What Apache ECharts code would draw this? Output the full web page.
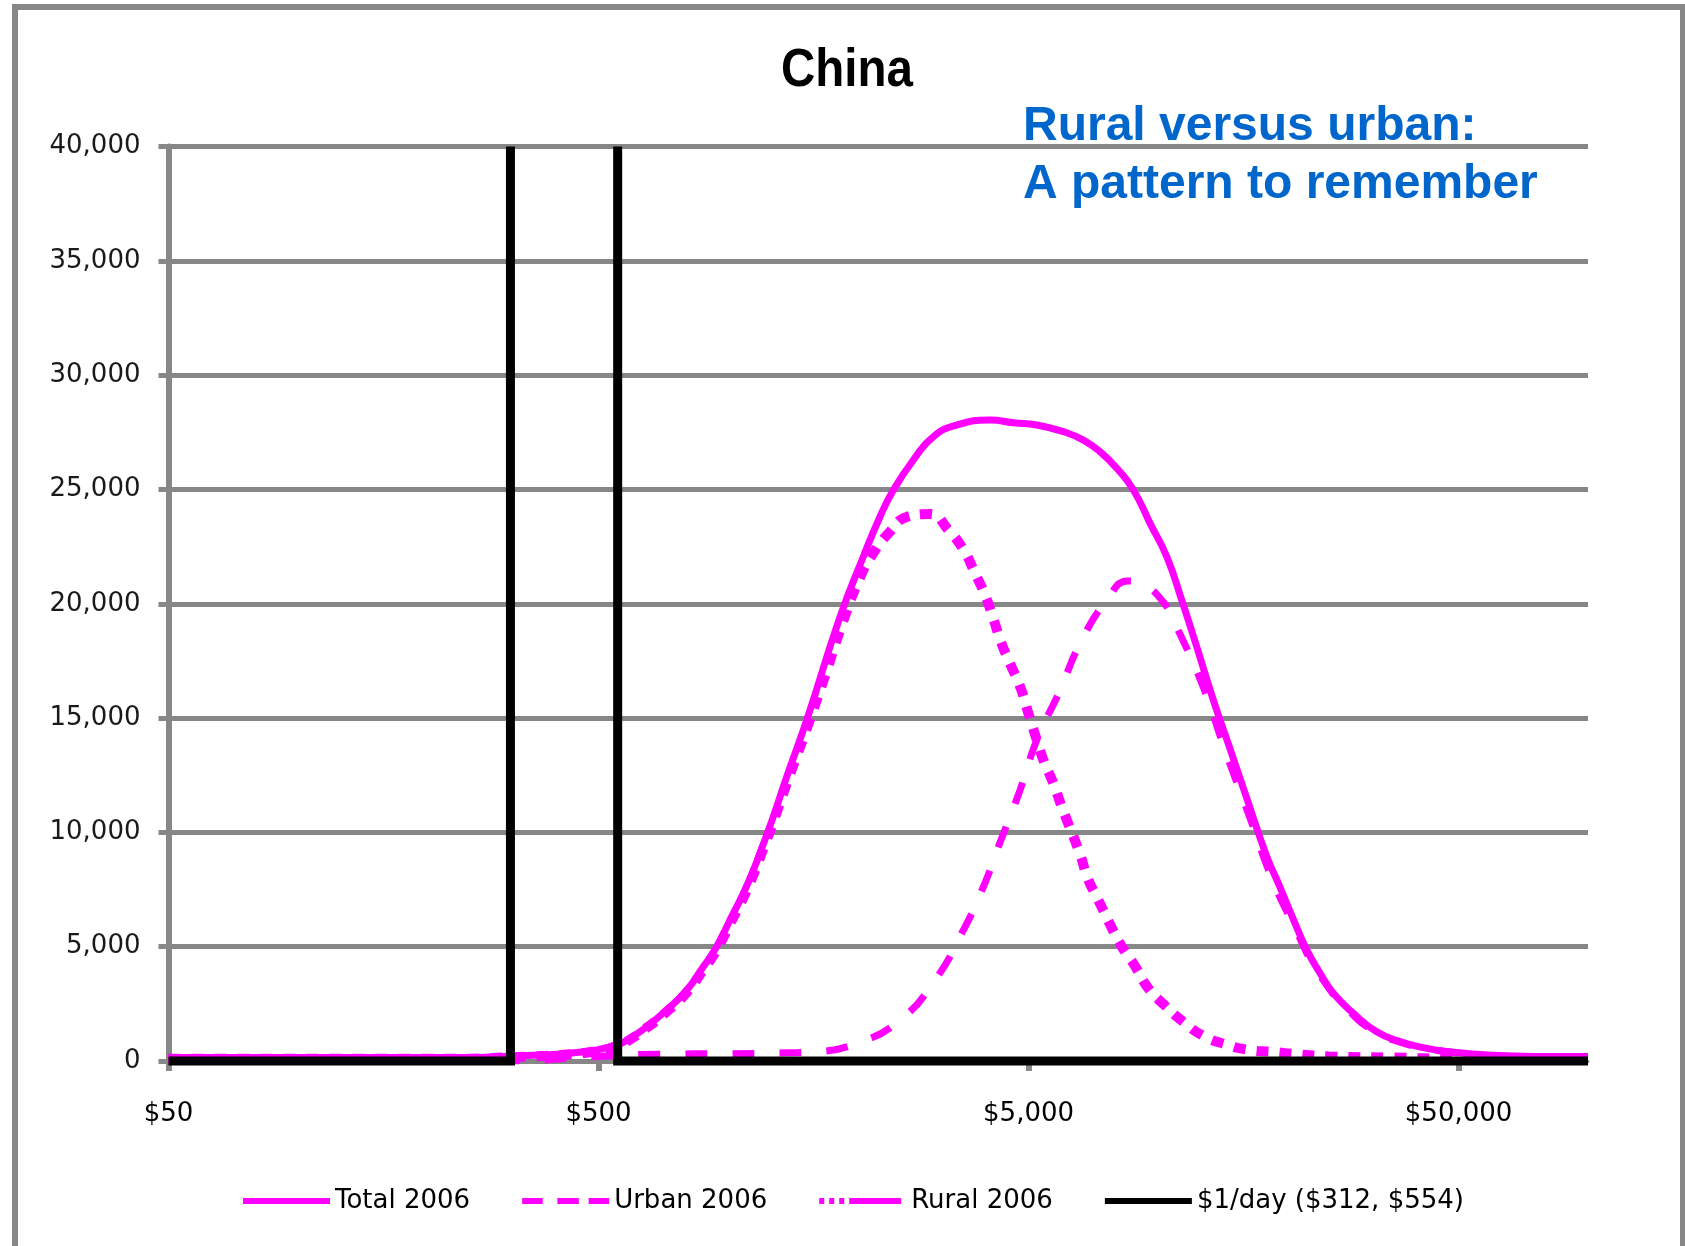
<!DOCTYPE html>
<html>
<head>
<meta charset="utf-8">
<script src="https://cdn.jsdelivr.net/npm/echarts@6/dist/echarts.min.js"></script>
<style>
html, body { margin: 0; padding: 0; background: #ffffff; }
#chart { width: 1685px; height: 1246px; }
</style>
</head>
<body>
<div id="chart"></div>
<script>
// ---------- data ----------
const chartTitle = 'China';
const noteLines = ['Rural versus urban:', 'A pattern to remember'];
const xTickValues = [50, 500, 5000, 50000];
const xMin = 50, xMax = 100000;
const yMin = 0, yMax = 40000, yStep = 5000;

const totalIncome = [50, 250, 300, 350, 400, 450, 500, 550, 582, 647, 720, 802, 877, 941, 1011, 1086, 1146, 1209, 1275, 1370, 1525, 1822, 2064, 2257, 2425, 2698, 3003, 3404, 4070, 4610, 5226, 6025, 6707, 7334, 8020, 8767, 9585, 10480, 11356, 12305, 13451, 14710, 16085, 17905, 19225, 20645, 22180, 23820, 25575, 28460, 32255, 36550, 42170, 47760, 60000, 75000, 100000];
const totalCount  = [150, 150, 200, 250, 300, 380, 500, 700, 900, 1500, 2230, 3100, 4130, 5000, 6170, 7340, 8350, 9500, 10690, 12440, 14920, 19430, 22060, 23810, 24980, 26290, 27310, 27820, 28040, 27920, 27820, 27530, 27160, 26650, 25930, 24980, 23520, 22060, 20160, 18120, 15790, 13650, 11500, 8950, 7600, 6200, 4860, 3840, 2960, 2090, 1280, 850, 550, 400, 250, 200, 200];

const urbanIncome = [50, 300, 500, 700, 1000, 1300, 1570, 1992, 2512, 3030, 3497, 3926, 4254, 4777, 5226, 5897, 6590, 7600, 8520, 9085, 10275, 11135, 12685, 14350, 16315, 18395, 20645, 23820, 28460, 32255, 36550, 42170, 47760, 60000, 75000, 100000];
const urbanCount  = [0, 0, 200, 300, 320, 350, 400, 770, 1790, 3540, 5590, 7620, 9370, 11850, 14040, 16150, 18270, 20160, 21000, 20900, 20090, 18850, 16450, 13550, 10700, 8000, 5970, 3740, 2000, 1250, 820, 540, 390, 200, 150, 150];

const ruralIncome = [50, 250, 300, 350, 400, 450, 500, 550, 582, 647, 720, 802, 877, 941, 1011, 1086, 1146, 1209, 1275, 1370, 1525, 1681, 1854, 2028, 2178, 2382, 2604, 2951, 3255, 3540, 3741, 3962, 4140, 4320, 4545, 4796, 4996, 5226, 5413, 5710, 5973, 6590, 6865, 7265, 7706, 8205, 8858, 9485, 10347, 11455, 12685, 14350, 16315, 18395, 21000, 25000, 35000, 50000, 100000];
const ruralCount  = [100, 100, 150, 200, 250, 330, 450, 650, 850, 1450, 2150, 3000, 4000, 4850, 6000, 7150, 8150, 9300, 10450, 12150, 14550, 16850, 19250, 21150, 22220, 23160, 23800, 23930, 23230, 22320, 21400, 20380, 19360, 18300, 17320, 16300, 15210, 14040, 13170, 12150, 11120, 9040, 7990, 7040, 6040, 5060, 4130, 3190, 2450, 1710, 1120, 730, 480, 400, 300, 200, 150, 100, 100];

const povertyLines = [312, 554];

const seriesNames = ['Total 2006', 'Urban 2006', 'Rural 2006', '$1/day ($312, $554)'];

// ---------- build chart ----------
function zip(xs, ys) { return xs.map((x, i) => [x, ys[i]]); }

const magenta = '#FF00FF';
const gridGray = '#878787';
const labelFont = '"DejaVu Sans", Verdana, sans-serif';

const chart = echarts.init(document.getElementById('chart'), null, { renderer: 'canvas' });

const option = {
  backgroundColor: '#ffffff',
  animation: false,
  graphic: [
    { type: 'rect', silent: true, shape: { x: 15, y: 7, width: 1668, height: 1300 },
      style: { fill: 'none', stroke: gridGray, lineWidth: 6 } },
    { type: 'text', silent: true, x: 847, y: 71, scaleX: 0.88, scaleY: 1,
      style: { text: chartTitle, font: 'bold 54px "Liberation Sans", Arial, sans-serif',
               fill: '#000000', align: 'center', verticalAlign: 'middle' } },
    { type: 'text', silent: true, x: 1023, y: 98.5,
      style: { text: noteLines.join('\n'), font: 'bold 48px "Liberation Sans", Arial, sans-serif',
               fill: '#0066CC', align: 'left', verticalAlign: 'top', lineHeight: 57.5 } }
  ],
  grid: { left: 168.5, right: 97, top: 146.6, bottom: 185, containLabel: false },
  xAxis: {
    type: 'log', logBase: 10, min: xMin, max: xMax,
    axisLine: { show: true, lineStyle: { color: gridGray, width: 3 } },
    axisTick: { show: true, customValues: xTickValues, length: 10, lineStyle: { color: gridGray, width: 6 } },
    minorTick: { show: false },
    splitLine: { show: false },
    axisLabel: {
      customValues: xTickValues, margin: 40,
      fontFamily: labelFont, fontSize: 26, color: '#000000',
      formatter: v => '$' + Number(v).toLocaleString('en-US')
    }
  },
  yAxis: {
    type: 'value', min: yMin, max: yMax, interval: yStep,
    axisLine: { show: true, lineStyle: { color: gridGray, width: 6 } },
    axisTick: { show: true, length: 10, lineStyle: { color: gridGray, width: 5 } },
    splitLine: { show: true, lineStyle: { color: gridGray, width: 5 } },
    axisLabel: {
      margin: 28, fontFamily: labelFont, fontSize: 26, color: '#1a1a1a',
      formatter: v => Number(v).toLocaleString('en-US')
    }
  },
  legend: {
    left: 238, top: 1183, itemWidth: 87, itemHeight: 6, itemGap: 52,
    textStyle: { fontFamily: labelFont, fontSize: 26, color: '#000000' },
    data: [
      { name: seriesNames[0], icon: 'rect' },
      { name: seriesNames[1], icon: 'path://M0,0h21v6h-21z M36,0h22v6h-22z M68,0h21v6h-21z' },
      { name: seriesNames[2], icon: 'path://M0,0h5v6h-5z M10,0h5v6h-5z M20,0h5v6h-5z M30,0h52v6h-52z M87,0h0.01v6h-0.01z' },
      { name: seriesNames[3], icon: 'rect' }
    ]
  },
  series: [
    { name: seriesNames[0], type: 'line', data: zip(totalIncome, totalCount),
      symbol: 'none', smooth: 0.5, z: 2,
      itemStyle: { color: magenta },
      lineStyle: { color: magenta, width: 7 } },
    { name: seriesNames[1], type: 'line', data: zip(urbanIncome, urbanCount),
      symbol: 'none', smooth: 0.5, z: 3,
      itemStyle: { color: magenta },
      lineStyle: { color: magenta, width: 7, type: [22, 25], cap: 'butt' } },
    { name: seriesNames[2], type: 'line', data: zip(ruralIncome, ruralCount),
      symbol: 'none', smooth: 0.5, z: 4,
      itemStyle: { color: magenta },
      lineStyle: { color: magenta, width: 10, type: [12, 11], cap: 'butt' } },
    { name: seriesNames[3], type: 'line',
      data: [[xMin, 0], [povertyLines[0], 0], [povertyLines[0], yMax]],
      symbol: 'none', z: 5, clip: false,
      itemStyle: { color: '#000000' },
      lineStyle: { color: '#000000', width: 9, join: 'miter' } },
    { name: seriesNames[3], type: 'line',
      data: [[povertyLines[1], yMax], [povertyLines[1], 0], [xMax, 0]],
      symbol: 'none', z: 5, clip: false,
      itemStyle: { color: '#000000' },
      lineStyle: { color: '#000000', width: 9, join: 'miter' } }
  ]
};

chart.setOption(option);
</script>
</body>
</html>
